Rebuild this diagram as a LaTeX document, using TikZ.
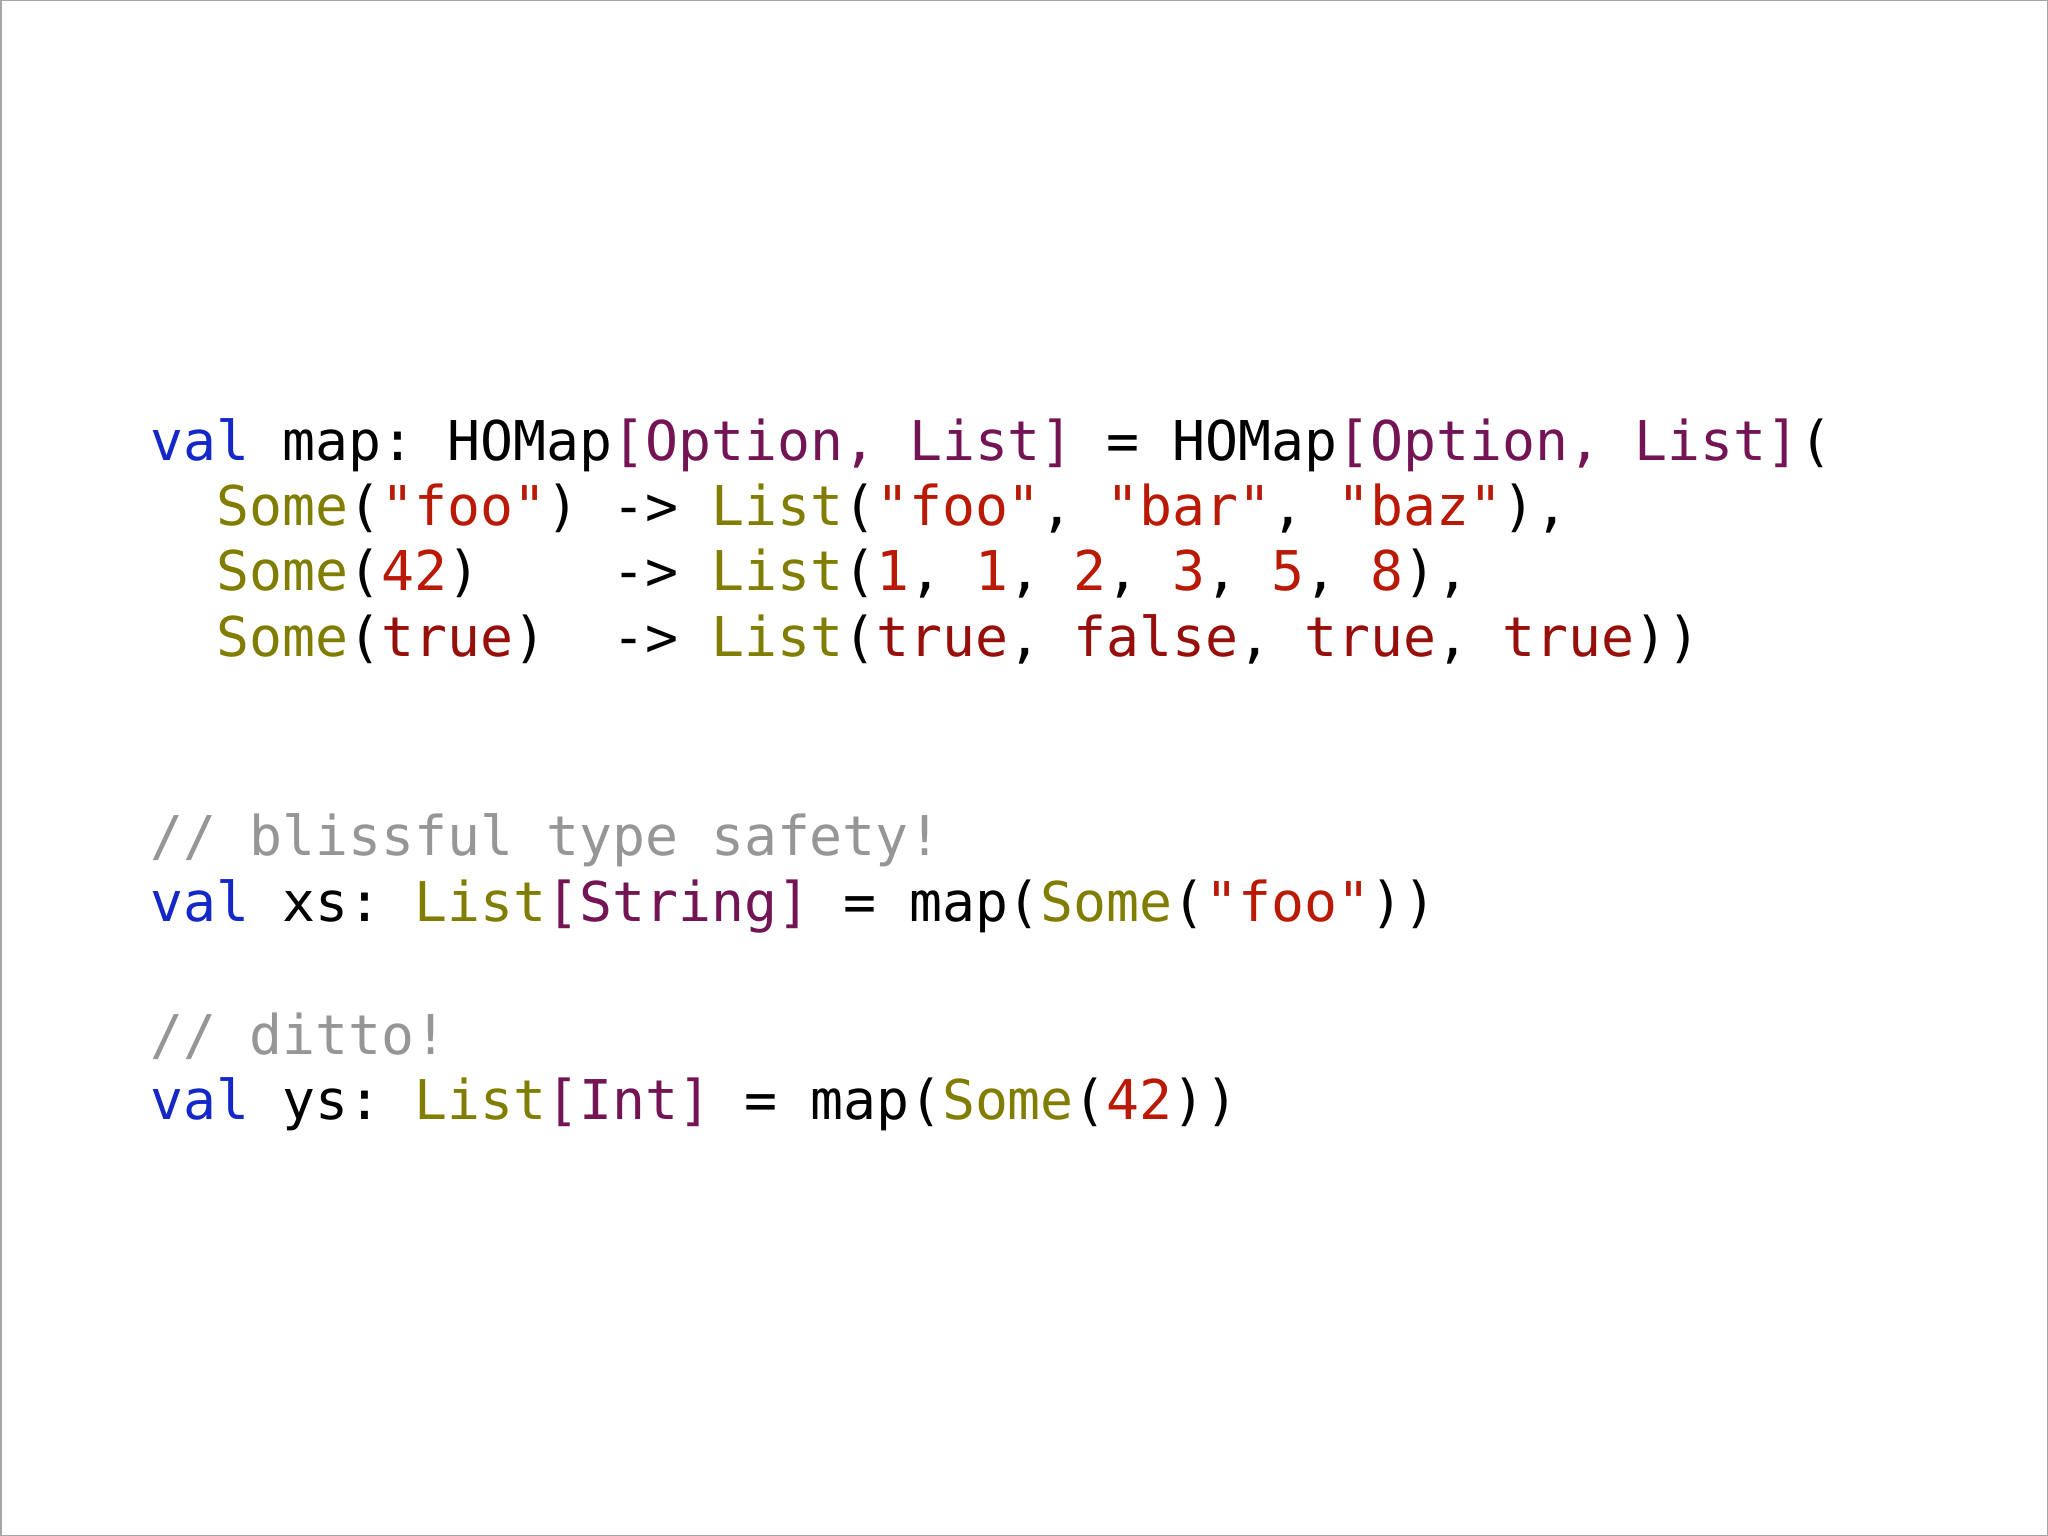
\documentclass[tikz,border=0pt]{standalone}
\usepackage{fontspec}
\setmonofont{DejaVu Sans Mono}
\definecolor{kw}{RGB}{20,40,200}
\definecolor{ty}{RGB}{115,20,85}
\definecolor{ol}{RGB}{128,125,0}
\definecolor{st}{RGB}{185,25,5}
\definecolor{bo}{RGB}{150,15,10}
\definecolor{cm}{RGB}{150,150,150}
\newcommand{\K}[1]{\textcolor{kw}{#1}}
\newcommand{\T}[1]{\textcolor{ty}{#1}}
\newcommand{\OL}[1]{\textcolor{ol}{#1}}
\newcommand{\ST}[1]{\textcolor{st}{#1}}
\newcommand{\B}[1]{\textcolor{bo}{#1}}
\begin{document}
\begin{tikzpicture}[x=1pt,y=1pt,
  code/.style={anchor=base west,inner sep=0pt,font=\fontsize{54.8}{60}\ttfamily}]
\fill[white] (0,0) rectangle (2048,-1536);
\draw[gray!70,line width=1.5pt] (0.75,-0.75) rectangle (2047.25,-1535.25);
\node[code] (l1) at (150,-460) {\K{val} map: HOMap\T{[Option,} \T{List]} = HOMap\T{[Option,} \T{List]}(};
\node[code] (l2) at (150,-525) {\ \ \OL{Some}(\ST{"foo"}) -> \OL{List}(\ST{"foo"}, \ST{"bar"}, \ST{"baz"}),};
\node[code] (l3) at (150,-590) {\ \ \OL{Some}(\ST{42})\ \ \ \ -> \OL{List}(\ST{1}, \ST{1}, \ST{2}, \ST{3}, \ST{5}, \ST{8}),};
\node[code] (l4) at (150,-656) {\ \ \OL{Some}(\B{true})\ \ -> \OL{List}(\B{true}, \B{false}, \B{true}, \B{true}))};
\node[code] (c1) at (150,-855) {\textcolor{cm}{// blissful type safety!}};
\node[code] (l5) at (150,-921) {\K{val} xs: \OL{List}\T{[String]} = map(\OL{Some}(\ST{"foo"}))};
\node[code] (c2) at (150,-1054) {\textcolor{cm}{// ditto!}};
\node[code] (l6) at (150,-1119) {\K{val} ys: \OL{List}\T{[Int]} = map(\OL{Some}(\ST{42}))};
\end{tikzpicture}
\end{document}
